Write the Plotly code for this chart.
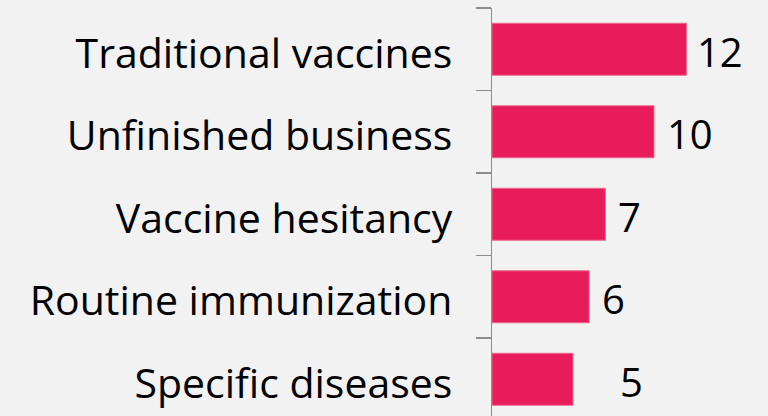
import plotly.graph_objects as go

categories = ["Traditional vaccines", "Unfinished business", "Vaccine hesitancy",
              "Routine immunization", "Specific diseases"]
values = [12, 10, 7, 6, 5]
value_labels = ["12", "10", "7", "6", "5"]

BAR_COLOR = "#e81c5a"
BG = "#f2f2f2"
FONT = "Open Sans"

fig = go.Figure()
fig.add_trace(go.Bar(
    x=values, y=categories, orientation="h",
    marker=dict(color=BAR_COLOR, line=dict(color="#e86a8e", width=1)),
    width=0.63,
    hoverinfo="skip",
))

label_shift = [9, 11, 11, 11, 45]
for cat, v, lab, s in zip(categories, values, value_labels, label_shift):
    fig.add_annotation(x=v, y=cat, text=lab, showarrow=False,
                       xanchor="left", yanchor="middle", xshift=s, yshift=-2,
                       font=dict(family=FONT, size=40, color="#000000"))

fig.update_layout(
    width=768, height=416,
    margin=dict(l=492, r=0, t=8, b=0),
    paper_bgcolor=BG, plot_bgcolor=BG,
    showlegend=False,
    xaxis=dict(range=[0, 276 / 16.2], visible=False, showgrid=False, zeroline=False),
    yaxis=dict(
        type="category",
        categoryorder="array", categoryarray=categories,
        range=[4.445, -0.5],
        showline=True, linecolor="#8c8c8c", linewidth=1.5,
        ticks="outside", tickson="boundaries", ticklen=15,
        tickcolor="#8c8c8c", tickwidth=1.5,
        tickfont=dict(family=FONT, size=41, color="#000000"),
        ticklabelstandoff=30,
        ticklabelshift=-4,
        showgrid=False, zeroline=False,
    ),
)

fig.write_html(
    "out.html",
    config={"displayModeBar": False, "staticPlot": True},
    post_script="document.body.style.margin='0';document.body.style.background='%s';" % BG,
)
